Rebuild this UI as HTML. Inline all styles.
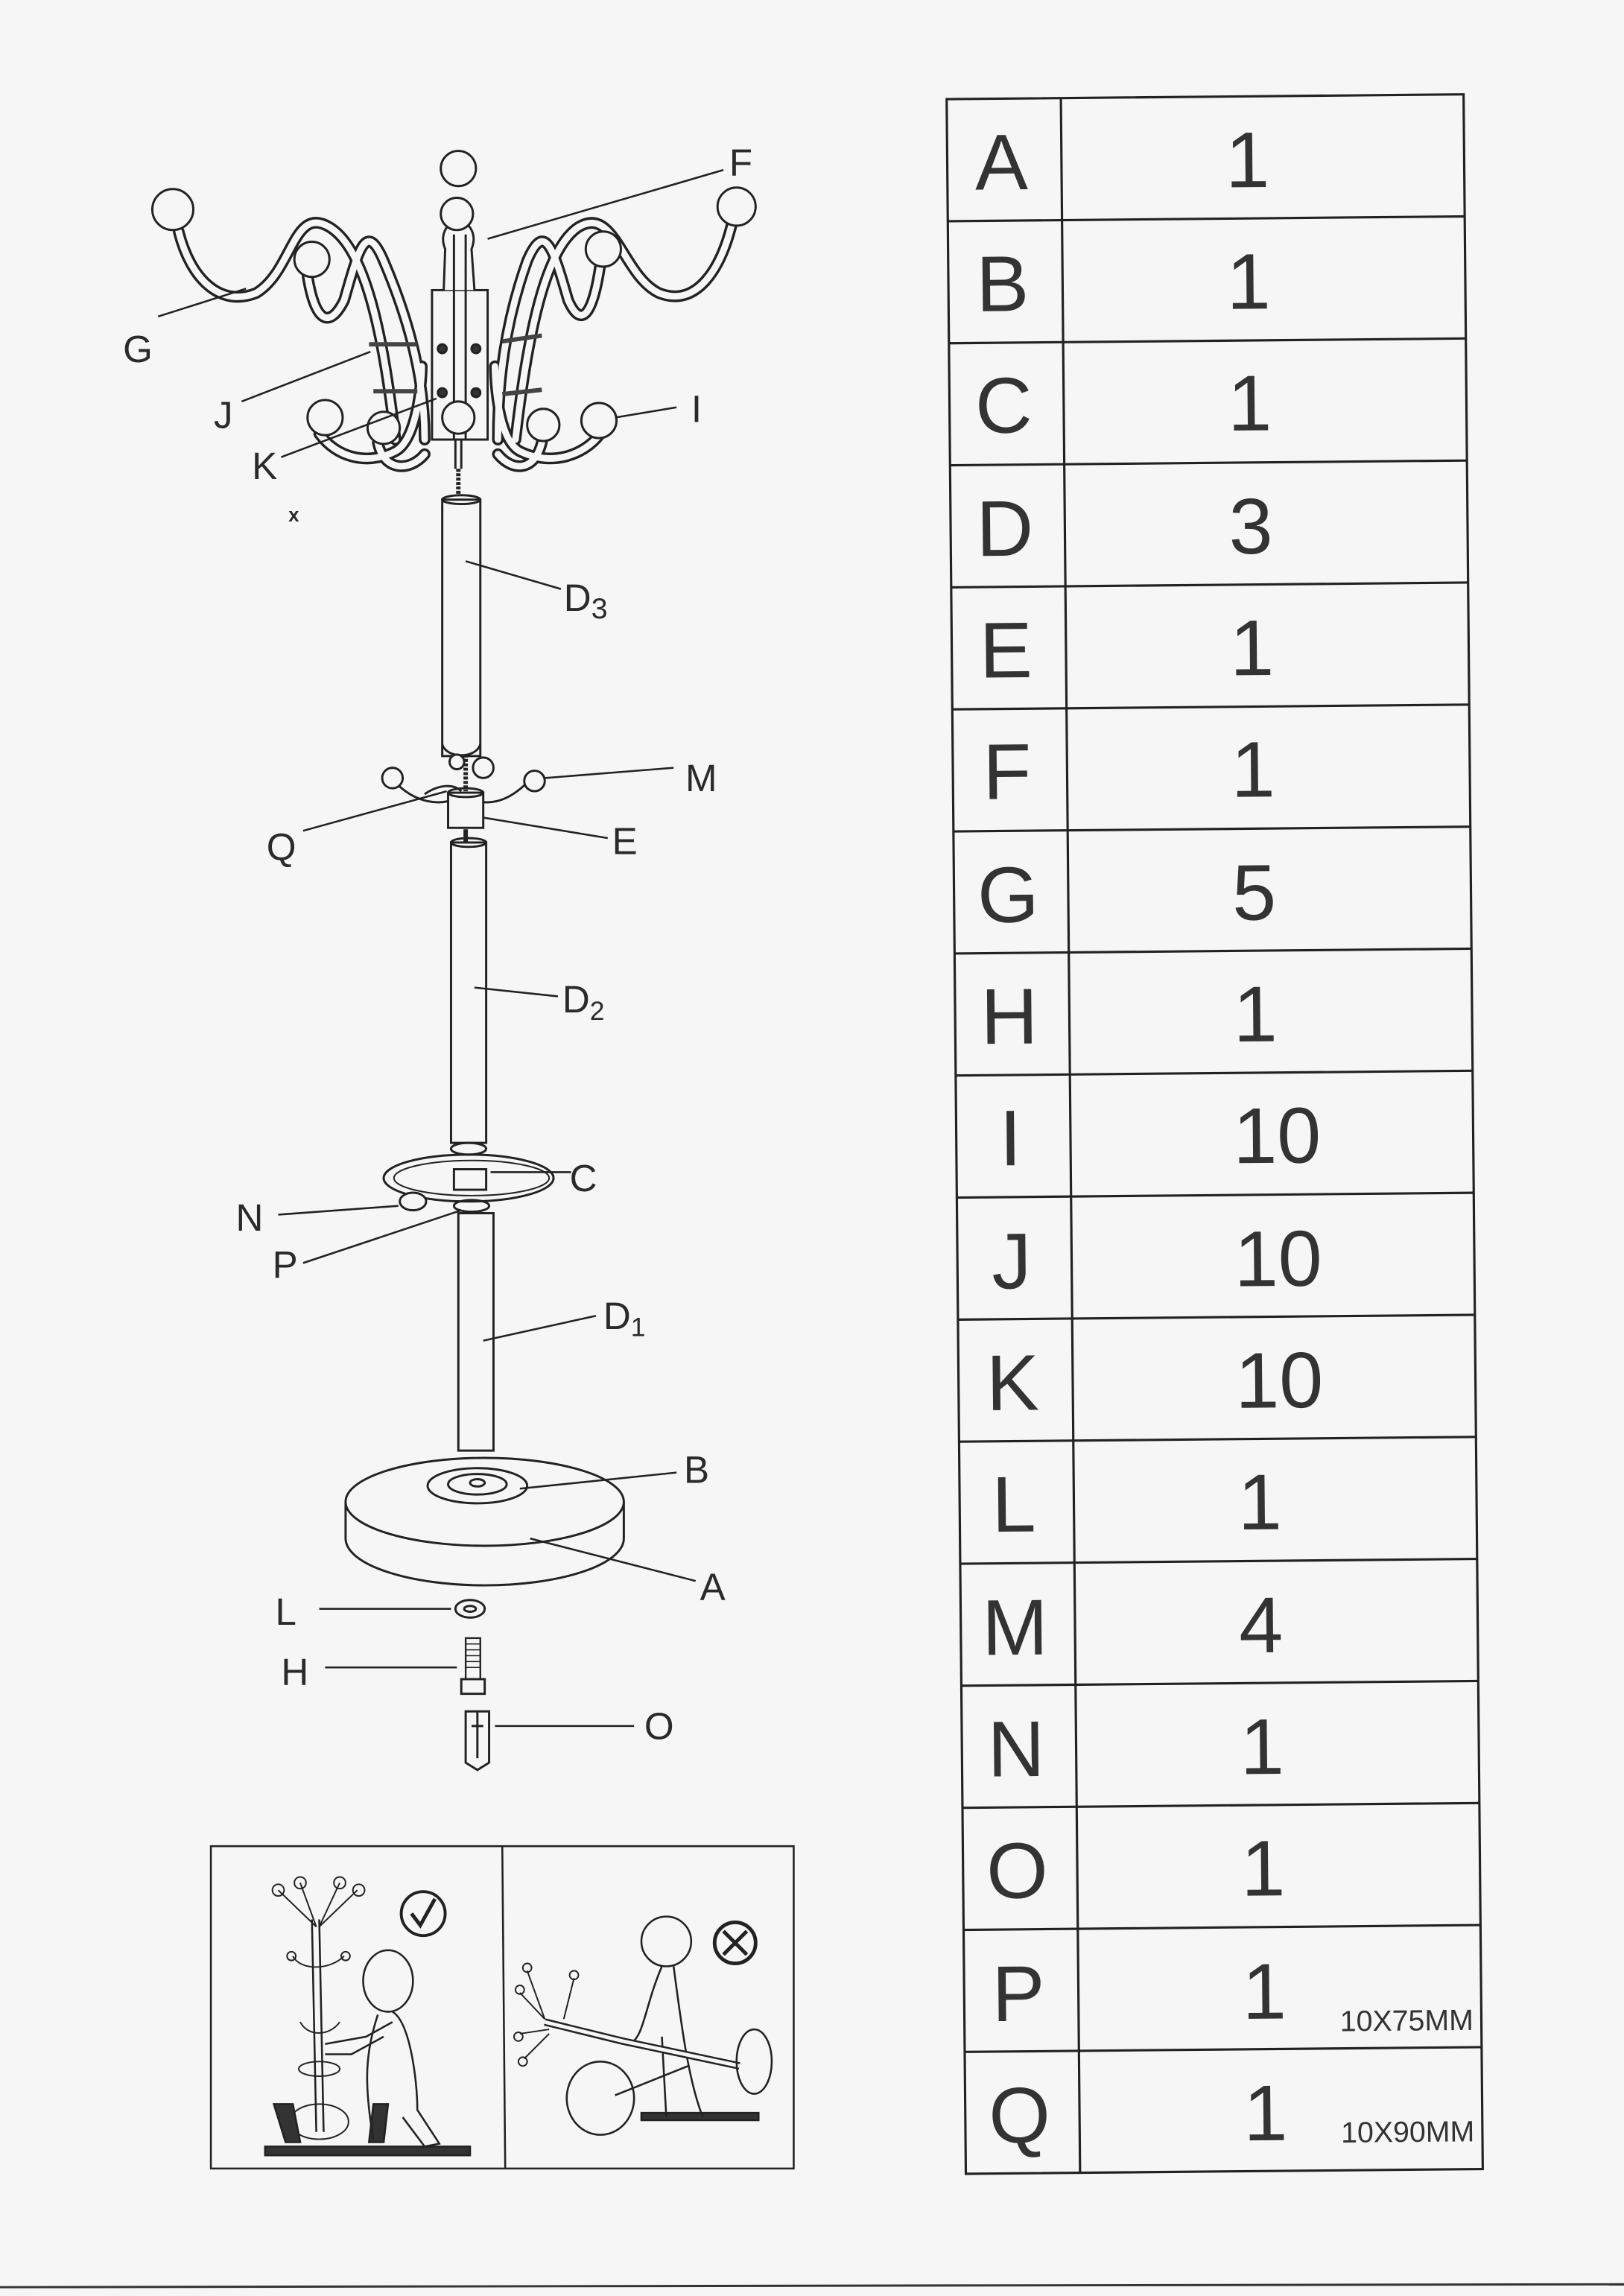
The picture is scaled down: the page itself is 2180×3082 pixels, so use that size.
<!DOCTYPE html>
<html><head><meta charset="utf-8"><style>
html,body{margin:0;padding:0;background:#f6f6f6;}
svg{display:block;}
text{font-family:"Liberation Sans",sans-serif;fill:#2a2a2a;}
.tb text{font-family:"Liberation Sans Narrow","Liberation Sans",sans-serif;fill:#333;}
</style></head><body>
<svg width="2180" height="3082" viewBox="0 0 1109 1567" preserveAspectRatio="none" xmlns="http://www.w3.org/2000/svg">
<rect width="1109" height="1567" fill="#f6f6f6"/>
<line x1="0" y1="1561" x2="1109" y2="1559" stroke="#333" stroke-width="1.5"/>

<!-- ===== TABLE ===== -->
<g class="tb" transform="rotate(-0.53 830 774)" stroke="#222" stroke-width="1.6" fill="none">
<rect x="653" y="66" width="353" height="1416"/>
<line x1="731" y1="66" x2="731" y2="1482"/>
<line x1="653" y1="149.3" x2="1006" y2="149.3"/><line x1="653" y1="232.6" x2="1006" y2="232.6"/>
<line x1="653" y1="315.9" x2="1006" y2="315.9"/><line x1="653" y1="399.2" x2="1006" y2="399.2"/>
<line x1="653" y1="482.5" x2="1006" y2="482.5"/><line x1="653" y1="565.8" x2="1006" y2="565.8"/>
<line x1="653" y1="649.1" x2="1006" y2="649.1"/><line x1="653" y1="732.4" x2="1006" y2="732.4"/>
<line x1="653" y1="815.7" x2="1006" y2="815.7"/><line x1="653" y1="899" x2="1006" y2="899"/>
<line x1="653" y1="982.3" x2="1006" y2="982.3"/><line x1="653" y1="1065.6" x2="1006" y2="1065.6"/>
<line x1="653" y1="1148.9" x2="1006" y2="1148.9"/><line x1="653" y1="1232.2" x2="1006" y2="1232.2"/>
<line x1="653" y1="1315.5" x2="1006" y2="1315.5"/><line x1="653" y1="1398.8" x2="1006" y2="1398.8"/>
<g stroke="none" font-size="54" text-anchor="middle">
<text x="690" y="128">A</text><text x="858" y="128">1</text>
<text x="690" y="211">B</text><text x="858" y="211">1</text>
<text x="690" y="294">C</text><text x="858" y="294">1</text>
<text x="690" y="378">D</text><text x="858" y="378">3</text>
<text x="690" y="461">E</text><text x="858" y="461">1</text>
<text x="690" y="544">F</text><text x="858" y="544">1</text>
<text x="690" y="628">G</text><text x="858" y="628">5</text>
<text x="690" y="711">H</text><text x="858" y="711">1</text>
<text x="690" y="794">I</text><text x="872" y="794">10</text>
<text x="690" y="878">J</text><text x="872" y="878">10</text>
<text x="690" y="961">K</text><text x="872" y="961">10</text>
<text x="690" y="1044">L</text><text x="858" y="1044">1</text>
<text x="690" y="1128">M</text><text x="858" y="1128">4</text>
<text x="690" y="1211">N</text><text x="858" y="1211">1</text>
<text x="690" y="1294">O</text><text x="858" y="1294">1</text>
<text x="690" y="1378">P</text><text x="858" y="1378">1</text>
<text x="690" y="1461">Q</text><text x="858" y="1461">1</text>
<text x="955" y="1387" font-size="20" style="font-family:'Liberation Sans',sans-serif">10X75MM</text>
<text x="955" y="1463" font-size="20" style="font-family:'Liberation Sans',sans-serif">10X90MM</text>
</g>
</g>

<!-- ===== COAT RACK DIAGRAM ===== -->
<g fill="none" stroke="#222" stroke-width="1.5">
<g stroke="#222" stroke-width="8" stroke-linecap="round">
<path d="M122 158 C130 190 150 210 175 200 C200 185 200 140 225 155 C250 170 262 230 270 300"/>
<path d="M210 188 C215 220 225 225 235 205 C245 170 250 150 262 178 C280 220 290 260 290 300"/>
<path d="M500 152 C492 185 475 210 450 200 C425 188 420 140 395 155 C372 170 360 230 352 300"/>
<path d="M410 180 C405 215 397 225 388 205 C378 170 372 150 360 178 C345 220 340 260 340 300"/>
<path d="M218 296 C230 312 250 318 270 308 C285 300 288 260 288 250"/>
<path d="M258 302 C262 322 280 322 290 310"/>
<path d="M410 296 C398 312 375 318 355 308 C340 300 338 260 338 250"/>
<path d="M370 302 C365 322 350 322 340 310"/>
</g>
<g stroke="#f6f6f6" stroke-width="4.5" stroke-linecap="round">
<path d="M122 158 C130 190 150 210 175 200 C200 185 200 140 225 155 C250 170 262 230 270 300"/>
<path d="M210 188 C215 220 225 225 235 205 C245 170 250 150 262 178 C280 220 290 260 290 300"/>
<path d="M500 152 C492 185 475 210 450 200 C425 188 420 140 395 155 C372 170 360 230 352 300"/>
<path d="M410 180 C405 215 397 225 388 205 C378 170 372 150 360 178 C345 220 340 260 340 300"/>
<path d="M218 296 C230 312 250 318 270 308 C285 300 288 260 288 250"/>
<path d="M258 302 C262 322 280 322 290 310"/>
<path d="M410 296 C398 312 375 318 355 308 C340 300 338 260 338 250"/>
<path d="M370 302 C365 322 350 322 340 310"/>
</g>
<rect x="295" y="198" width="38" height="102" fill="#f6f6f6"/>
<path d="M303 198 L304 170 C300 160 305 152 313 150 C321 152 326 160 322 170 L324 198" fill="#f6f6f6"/>
<line x1="310" y1="160" x2="310" y2="300"/><line x1="318" y1="160" x2="318" y2="300"/>
<circle cx="313" cy="115" r="12" fill="#f6f6f6"/>
<circle cx="312" cy="146" r="11" fill="#f6f6f6"/>
<circle cx="302" cy="238" r="3" fill="#333"/><circle cx="325" cy="238" r="3" fill="#333"/>
<circle cx="302" cy="268" r="3" fill="#333"/><circle cx="325" cy="268" r="3" fill="#333"/>
<g stroke-width="3" stroke="#444"><line x1="252" y1="235" x2="285" y2="235"/><line x1="255" y1="267" x2="285" y2="267"/>
<line x1="343" y1="233" x2="370" y2="229"/><line x1="343" y1="269" x2="370" y2="266"/></g>
<g fill="#f6f6f6">
<circle cx="118" cy="143" r="14"/><circle cx="213" cy="177" r="12"/>
<circle cx="503" cy="141" r="13"/><circle cx="412" cy="170" r="12"/>
<circle cx="222" cy="285" r="12"/><circle cx="262" cy="292" r="11"/>
<circle cx="313" cy="285" r="11"/>
<circle cx="371" cy="290" r="11"/><circle cx="409" cy="287" r="12"/>
</g>
<line x1="311" y1="300" x2="311" y2="320"/><line x1="315" y1="300" x2="315" y2="320"/>
<line x1="313" y1="320" x2="313" y2="338" stroke-width="3" stroke-dasharray="2 1"/>
<rect x="302" y="341" width="26" height="175" fill="#f6f6f6"/>
<ellipse cx="315" cy="341" rx="13" ry="3"/>
<path d="M302 508 C305 518 325 518 328 508"/>
<line x1="318" y1="515" x2="318" y2="540" stroke-width="3" stroke-dasharray="2 1"/>
<path d="M272 536 C285 548 300 550 312 545"/><path d="M358 536 C345 548 332 550 322 545"/>
<path d="M290 542 C300 535 310 535 315 540"/>
<g fill="#f6f6f6"><circle cx="268" cy="531" r="7"/><circle cx="365" cy="533" r="7"/><circle cx="330" cy="524" r="7"/><circle cx="312" cy="520" r="5"/></g>
<rect x="306" y="541" width="24" height="24" fill="#f6f6f6"/>
<ellipse cx="318" cy="541" rx="12" ry="3"/>
<line x1="318" y1="566" x2="318" y2="578" stroke-width="3"/>
<rect x="308" y="575" width="24" height="205" fill="#f6f6f6"/>
<ellipse cx="320" cy="575" rx="12" ry="3"/>
<ellipse cx="320" cy="784" rx="12" ry="4"/>
<ellipse cx="320" cy="804" rx="58" ry="16" stroke-width="1.5"/>
<ellipse cx="322" cy="804" rx="53" ry="12" stroke-width="1"/>
<rect x="310" y="798" width="22" height="14" fill="#f6f6f6"/>
<ellipse cx="282" cy="820" rx="9" ry="6" fill="#f6f6f6"/>
<ellipse cx="322" cy="823" rx="12" ry="4"/>
<rect x="313" y="828" width="24" height="162" fill="#f6f6f6"/>
<path d="M236 1025 L236 1050 A95 32 0 0 0 426 1050 L426 1025" fill="#f6f6f6"/>
<ellipse cx="331" cy="1025" rx="95" ry="30" fill="#f6f6f6"/>
<ellipse cx="326" cy="1014" rx="34" ry="12"/>
<ellipse cx="326" cy="1013" rx="20" ry="7"/>
<ellipse cx="326" cy="1012" rx="5" ry="2.5"/>
<ellipse cx="321" cy="1098" rx="10" ry="6"/><ellipse cx="321" cy="1098" rx="4" ry="2"/>
<rect x="318" y="1118" width="10" height="28" stroke-width="1.2"/>
<g stroke-width="0.8"><line x1="318" y1="1122" x2="328" y2="1122"/><line x1="318" y1="1126" x2="328" y2="1126"/><line x1="318" y1="1130" x2="328" y2="1130"/><line x1="318" y1="1134" x2="328" y2="1134"/><line x1="318" y1="1138" x2="328" y2="1138"/></g>
<rect x="315" y="1146" width="16" height="10"/>
<path d="M318 1168 L334 1168 L334 1203 L326 1208 L318 1203 Z"/>
<line x1="326" y1="1168" x2="326" y2="1200"/><line x1="322" y1="1178" x2="330" y2="1178"/>
</g>

<g stroke="#222" stroke-width="1.3">
<line x1="494" y1="116" x2="333" y2="163"/>
<line x1="108" y1="216" x2="168" y2="197"/>
<line x1="165" y1="274" x2="253" y2="240"/>
<line x1="462" y1="278" x2="420" y2="285"/>
<line x1="192" y1="312" x2="298" y2="272"/>
<line x1="383" y1="402" x2="318" y2="383"/>
<line x1="460" y1="524" x2="372" y2="531"/>
<line x1="207" y1="567" x2="305" y2="540"/>
<line x1="415" y1="572" x2="330" y2="558"/>
<line x1="381" y1="680" x2="324" y2="674"/>
<line x1="390" y1="800" x2="335" y2="800"/>
<line x1="190" y1="829" x2="272" y2="823"/>
<line x1="207" y1="862" x2="315" y2="826"/>
<line x1="407" y1="898" x2="330" y2="915"/>
<line x1="462" y1="1005" x2="355" y2="1016"/>
<line x1="475" y1="1079" x2="362" y2="1050"/>
<line x1="218" y1="1098" x2="308" y2="1098"/>
<line x1="222" y1="1138" x2="312" y2="1138"/>
<line x1="338" y1="1178" x2="433" y2="1178"/>
</g>
<g font-size="26">
<text x="498" y="120">F</text>
<text x="84" y="247">G</text>
<text x="146" y="292">J</text>
<text x="472" y="288">I</text>
<text x="172" y="327">K</text>
<text x="197" y="356" font-size="13" font-weight="bold">x</text>
<text x="385" y="417">D<tspan font-size="20" dy="5">3</tspan></text>
<text x="468" y="540">M</text>
<text x="182" y="587">Q</text>
<text x="418" y="583">E</text>
<text x="384" y="691">D<tspan font-size="18" dy="5">2</tspan></text>
<text x="389" y="813">C</text>
<text x="161" y="840">N</text>
<text x="186" y="872">P</text>
<text x="412" y="907">D<tspan font-size="18" dy="5">1</tspan></text>
<text x="467" y="1012">B</text>
<text x="478" y="1092">A</text>
<text x="188" y="1109">L</text>
<text x="192" y="1150">H</text>
<text x="440" y="1187">O</text>
</g>

<g fill="none" stroke="#222" stroke-width="1.3">
<rect x="144" y="1260" width="398" height="220"/>
<line x1="343" y1="1260" x2="345" y2="1480"/>
<rect x="181" y="1465" width="140" height="6" fill="#333"/>
<line x1="213" y1="1310" x2="216" y2="1455"/><line x1="218" y1="1310" x2="221" y2="1455"/>
<g stroke-width="1"><path d="M216 1315 L190 1290"/><path d="M216 1315 L205 1285"/><path d="M218 1315 L232 1285"/><path d="M218 1315 L244 1290"/>
<circle cx="190" cy="1290" r="4"/><circle cx="205" cy="1285" r="4"/><circle cx="232" cy="1285" r="4"/><circle cx="245" cy="1290" r="4"/>
<path d="M200 1335 C205 1345 225 1345 235 1335"/><circle cx="199" cy="1335" r="3"/><circle cx="236" cy="1335" r="3"/>
<path d="M205 1380 C210 1390 225 1390 232 1380"/>
<ellipse cx="218" cy="1412" rx="14" ry="5"/>
<ellipse cx="218" cy="1448" rx="20" ry="12"/></g>
<path d="M187 1436 L200 1436 L205 1462 L195 1462 Z" fill="#333"/><path d="M255 1436 L265 1436 L262 1462 L252 1462 Z" fill="#333"/>
<circle cx="289" cy="1306" r="15" stroke-width="2"/>
<path d="M281 1306 L287 1314 L297 1296" stroke-width="2.5"/>
<ellipse cx="265" cy="1352" rx="17" ry="21" fill="#f6f6f6"/>
<path d="M268 1373 C280 1380 285 1420 285 1440 L300 1463 L290 1465 L275 1445"/>
<path d="M258 1375 C250 1400 248 1420 255 1460"/>
<path d="M268 1380 L250 1390 L222 1395"/><path d="M262 1390 L240 1402 L222 1402"/>
<rect x="438" y="1442" width="80" height="5" fill="#333"/>
<circle cx="455" cy="1325" r="17" fill="#f6f6f6"/>
<circle cx="502" cy="1326" r="14" stroke-width="2.5"/>
<path d="M494 1318 L510 1334 M510 1318 L494 1334" stroke-width="2.5"/>
<path d="M452 1342 C440 1370 440 1390 430 1395"/><path d="M460 1342 C465 1380 470 1420 480 1445"/>
<path d="M452 1390 L455 1445"/>
<path d="M372 1380 L425 1393 L505 1410" stroke-width="5"/><path d="M372 1380 L425 1393 L505 1410" stroke="#f6f6f6" stroke-width="2.5"/>
<ellipse cx="515" cy="1407" rx="12" ry="22"/>
<ellipse cx="410" cy="1432" rx="23" ry="25"/>
<line x1="420" y1="1430" x2="470" y2="1410"/>
<g stroke-width="1"><path d="M372 1378 L360 1345"/><path d="M372 1378 L355 1360"/><path d="M375 1385 L355 1388"/><path d="M375 1388 L358 1405"/><path d="M385 1378 L392 1350"/>
<circle cx="360" cy="1343" r="3"/><circle cx="355" cy="1358" r="3"/><circle cx="354" cy="1390" r="3"/><circle cx="357" cy="1407" r="3"/><circle cx="392" cy="1348" r="3"/></g>
</g>
</svg>
</body></html>
